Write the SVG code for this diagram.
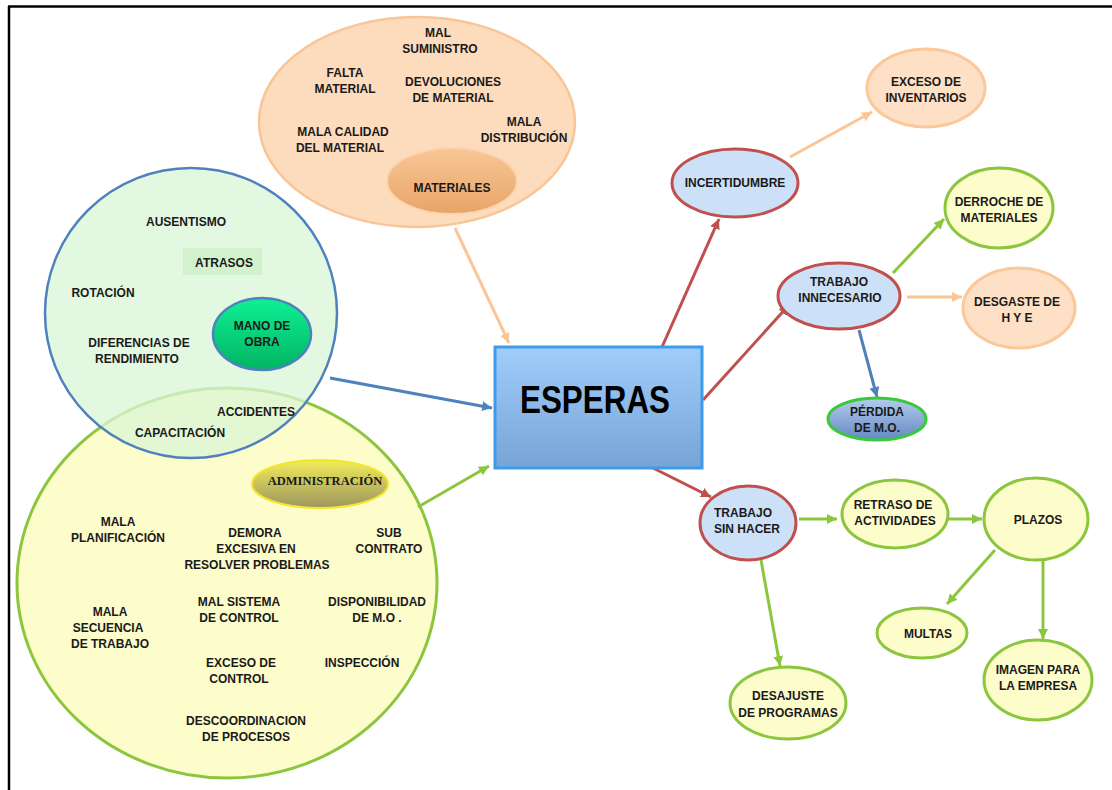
<svg xmlns="http://www.w3.org/2000/svg" width="1112" height="790" viewBox="0 0 1112 790">
<style>
text{font-family:"Liberation Sans",Arial,sans-serif;font-weight:bold;font-size:12px;fill:#1a1a1a;text-anchor:middle}
.c{fill:none;stroke-width:3}
.red{stroke:#c0504d}
.grn{stroke:#8cc63e}
.org{stroke:#fbc596}
.blu{stroke:#4f81bd}
.nb{fill:#cce0f8;stroke:#c0504d;stroke-width:3}
.ny{fill:#fdfccb;stroke:#8cc63e;stroke-width:3}
.no{fill:#fde0c6;stroke:#fbc89a;stroke-width:3}
</style>
<defs>
<marker id="mr" markerUnits="userSpaceOnUse" markerWidth="11" markerHeight="11" refX="10" refY="5" orient="auto"><path d="M0,0 L10,5 L0,10 z" fill="#c0504d"/></marker>
<marker id="mg" markerUnits="userSpaceOnUse" markerWidth="11" markerHeight="11" refX="10" refY="5" orient="auto"><path d="M0,0 L10,5 L0,10 z" fill="#8cc63e"/></marker>
<marker id="mo" markerUnits="userSpaceOnUse" markerWidth="11" markerHeight="11" refX="10" refY="5" orient="auto"><path d="M0,0 L10,5 L0,10 z" fill="#fbc596"/></marker>
<marker id="mb" markerUnits="userSpaceOnUse" markerWidth="11" markerHeight="11" refX="10" refY="5" orient="auto"><path d="M0,0 L10,5 L0,10 z" fill="#4f81bd"/></marker>
<linearGradient id="gEsp" x1="0" y1="0" x2="0" y2="1"><stop offset="0" stop-color="#a0cdfa"/><stop offset="1" stop-color="#76a4d6"/></linearGradient>
<linearGradient id="gMat" x1="0" y1="0" x2="0" y2="1"><stop offset="0" stop-color="#f8c796"/><stop offset="1" stop-color="#e8a468"/></linearGradient>
<linearGradient id="gMano" x1="0" y1="0" x2="0" y2="1"><stop offset="0" stop-color="#10f096"/><stop offset="1" stop-color="#00b462"/></linearGradient>
<linearGradient id="gAdm" x1="0" y1="0" x2="0" y2="1"><stop offset="0" stop-color="#f2ec5a"/><stop offset="1" stop-color="#9c9660"/></linearGradient>
<linearGradient id="gPer" x1="0" y1="0" x2="0" y2="1"><stop offset="0" stop-color="#b4cdee"/><stop offset="1" stop-color="#6588c4"/></linearGradient>
</defs>

<g id="frame">
<line x1="8" y1="6.5" x2="1112" y2="6.5" stroke="#000" stroke-width="2.5"/>
<line x1="9" y1="6" x2="9" y2="790" stroke="#000" stroke-width="2.5"/>
</g>

<g id="administracion">
<ellipse cx="227" cy="583" rx="210" ry="195" fill="#fdfccb" stroke="#8cc63e" stroke-width="3"/>
<ellipse cx="320" cy="484" rx="68" ry="24" fill="url(#gAdm)" stroke="#f3e62a" stroke-width="2"/>
<text x="325" y="485" style="font-family:'Liberation Serif','Times New Roman',serif;font-size:12.5px">ADMINISTRACIÓN</text>
<text x="118" y="526">MALA</text><text x="118" y="542">PLANIFICACIÓN</text>
<text x="255" y="537">DEMORA</text><text x="256" y="553">EXCESIVA EN</text><text x="257" y="569">RESOLVER  PROBLEMAS</text>
<text x="389" y="537">SUB</text><text x="389" y="553">CONTRATO</text>
<text x="110" y="616">MALA</text><text x="108" y="632">SECUENCIA</text><text x="110" y="648">DE TRABAJO</text>
<text x="239" y="606">MAL SISTEMA</text><text x="239" y="622">DE CONTROL</text>
<text x="377" y="606">DISPONIBILIDAD</text><text x="377" y="622">DE M.O .</text>
<text x="241" y="667">EXCESO DE</text><text x="239" y="683">CONTROL</text>
<text x="362" y="667">INSPECCIÓN</text>
<text x="246" y="725">DESCOORDINACION</text><text x="246" y="741">DE PROCESOS</text>
</g>

<g id="mano-de-obra">
<ellipse cx="191" cy="313" rx="146" ry="145" fill="#daf6d6" fill-opacity="0.75" stroke="#4f81bd" stroke-width="2.5"/>
<rect x="183" y="248" width="79" height="27" fill="#cdf0c8" fill-opacity="0.8"/>
<ellipse cx="262" cy="334" rx="49" ry="36" fill="url(#gMano)" stroke="#4f81bd" stroke-width="2.5"/>
<text x="186" y="226">AUSENTISMO</text>
<text x="224" y="267">ATRASOS</text>
<text x="103" y="297">ROTACIÓN</text>
<text x="139" y="347">DIFERENCIAS DE</text><text x="137" y="363">RENDIMIENTO</text>
<text x="262" y="330">MANO DE</text><text x="262" y="346">OBRA</text>
<text x="256" y="416">ACCIDENTES</text>
<text x="180" y="437">CAPACITACIÓN</text>
</g>

<g id="materiales">
<ellipse cx="417" cy="122" rx="158" ry="105" fill="#fcdcbd" stroke="#f9c596" stroke-width="2.5"/>
<ellipse cx="452" cy="181" rx="65" ry="33" fill="url(#gMat)" stroke="#fbd5b2" stroke-width="2"/>
<text x="438" y="37">MAL</text><text x="440" y="53">SUMINISTRO</text>
<text x="345" y="77">FALTA</text><text x="345" y="93">MATERIAL</text>
<text x="453" y="86">DEVOLUCIONES</text><text x="453" y="102">DE MATERIAL</text>
<text x="524" y="126">MALA</text><text x="524" y="142">DISTRIBUCIÓN</text>
<text x="343" y="136">MALA CALIDAD</text><text x="340" y="152">DEL MATERIAL</text>
<text x="452" y="192">MATERIALES</text>
</g>

<g id="connectors">
<line class="c org" x1="455" y1="228" x2="509" y2="343" marker-end="url(#mo)"/>
<line class="c blu" x1="330" y1="378" x2="492" y2="408" marker-end="url(#mb)"/>
<line class="c grn" x1="418" y1="507" x2="489" y2="466" marker-end="url(#mg)"/>
<line class="c red" x1="662" y1="347" x2="719" y2="219" marker-end="url(#mr)"/>
<line class="c red" x1="703" y1="400" x2="789" y2="305" marker-end="url(#mr)"/>
<line class="c red" x1="653" y1="468" x2="711" y2="497" marker-end="url(#mr)"/>
<line class="c org" x1="790" y1="157" x2="872" y2="112" marker-end="url(#mo)"/>
<line class="c grn" x1="893" y1="273" x2="944" y2="219" marker-end="url(#mg)"/>
<line class="c org" x1="907" y1="297" x2="962" y2="297" marker-end="url(#mo)"/>
<line class="c blu" x1="859" y1="330" x2="877" y2="397" marker-end="url(#mb)"/>
<line class="c grn" x1="799" y1="519" x2="837" y2="519" marker-end="url(#mg)"/>
<line class="c grn" x1="948" y1="519" x2="982" y2="519" marker-end="url(#mg)"/>
<line class="c grn" x1="995" y1="550" x2="947" y2="604" marker-end="url(#mg)"/>
<line class="c grn" x1="1043" y1="560" x2="1043" y2="639" marker-end="url(#mg)"/>
<line class="c grn" x1="761" y1="560" x2="780" y2="666" marker-end="url(#mg)"/>
</g>

<g id="esperas">
<rect x="495" y="347" width="207" height="121" fill="url(#gEsp)" stroke="#3d9be9" stroke-width="3"/>
<text x="595" y="413" textLength="150" lengthAdjust="spacingAndGlyphs" style="font-size:39px;fill:#000">ESPERAS</text>
</g>

<g id="incertidumbre">
<ellipse class="nb" cx="735" cy="183" rx="63" ry="34"/>
<text x="735" y="187">INCERTIDUMBRE</text>
</g>
<g id="exceso-inventarios">
<ellipse class="no" cx="926" cy="88" rx="59" ry="39"/>
<text x="926" y="86">EXCESO DE</text><text x="926" y="102">INVENTARIOS</text>
</g>
<g id="trabajo-innecesario">
<ellipse class="nb" cx="839" cy="296" rx="61" ry="33"/>
<text x="839" y="286">TRABAJO</text><text x="840" y="302">INNECESARIO</text>
</g>
<g id="derroche">
<ellipse class="ny" cx="999" cy="208" rx="54" ry="40"/>
<text x="999" y="206">DERROCHE DE</text><text x="999" y="222">MATERIALES</text>
</g>
<g id="desgaste">
<ellipse class="no" cx="1019" cy="308" rx="56" ry="40"/>
<text x="1017" y="306">DESGASTE DE</text><text x="1017" y="322">H Y E</text>
</g>
<g id="perdida">
<ellipse cx="877" cy="419" rx="49" ry="21" fill="url(#gPer)" stroke="#3cc83c" stroke-width="3"/>
<text x="877" y="416">PÉRDIDA</text><text x="877" y="432">DE  M.O.</text>
</g>
<g id="trabajo-sin-hacer">
<ellipse class="nb" cx="748" cy="523" rx="48" ry="37"/>
<text x="743" y="517">TRABAJO</text><text x="747" y="533">SIN HACER</text>
</g>
<g id="retraso">
<ellipse class="ny" cx="895" cy="514" rx="53" ry="34"/>
<text x="893" y="509">RETRASO DE</text><text x="895" y="525">ACTIVIDADES</text>
</g>
<g id="plazos">
<ellipse class="ny" cx="1036" cy="519" rx="52" ry="41"/>
<text x="1038" y="524">PLAZOS</text>
</g>
<g id="multas">
<ellipse class="ny" cx="922" cy="633" rx="45" ry="25"/>
<text x="928" y="638">MULTAS</text>
</g>
<g id="imagen">
<ellipse class="ny" cx="1038" cy="680" rx="54" ry="40"/>
<text x="1038" y="674">IMAGEN PARA</text><text x="1038" y="690">LA EMPRESA</text>
</g>
<g id="desajuste">
<ellipse class="ny" cx="788" cy="703" rx="58" ry="36"/>
<text x="788" y="700">DESAJUSTE</text><text x="788" y="717">DE PROGRAMAS</text>
</g>
</svg>
